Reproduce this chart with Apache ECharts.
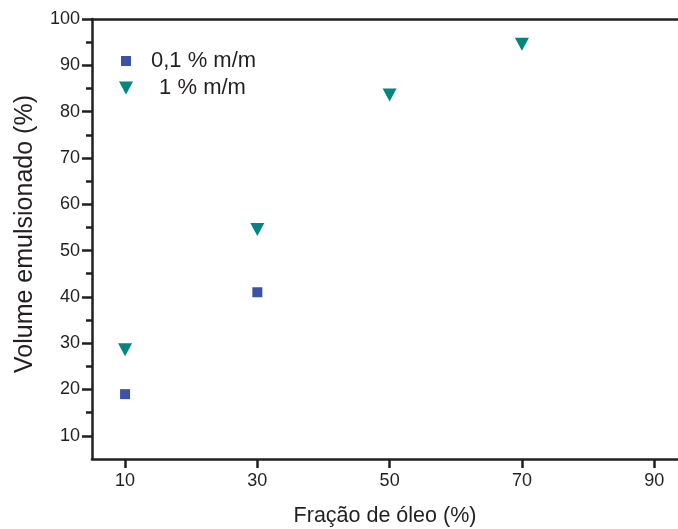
<!DOCTYPE html>
<html>
<head>
<meta charset="utf-8">
<script src="https://cdn.jsdelivr.net/npm/echarts@6/dist/echarts.min.js"></script>
<style>
html,body{margin:0;padding:0;background:#fff;}
#c{width:678px;height:529px;}
</style>
</head>
<body>
<div id="c"></div>
<script>
const seriesNames = ['0,1 % m/m', ' 1 % m/m'];
const xLow = [10, 30];
const yLow = [19, 41];
const xHigh = [10, 30, 50, 70];
const yHigh = [29, 55, 84, 95];
const xTicks = [10, 30, 50, 70, 90];
const yTicks = [10, 20, 30, 40, 50, 60, 70, 80, 90, 100];
const yMinorTicks = [15, 25, 35, 45, 55, 65, 75, 85, 95];
const xTitle = 'Fração de óleo (%)';
const yTitle = 'Volume emulsionado (%)';

const ink = '#231f20';
const font = 'Liberation Sans';
const downTri = 'path://M0,0 L14,0 L7,13 Z';
const chart = echarts.init(document.getElementById('c'));
chart.setOption({
  animation: false,
  backgroundColor: '#fff',
  grid: {left: 92, top: 19, right: 0, bottom: 70, containLabel: false, outerBoundsMode: 'none'},
  legend: [{
    orient: 'vertical', left: 116, top: 45, itemWidth: 10, itemHeight: 10,
    textStyle: {fontFamily: font, fontSize: 22, color: ink, padding: [0, 0, 0, 15]},
    data: [seriesNames[0]]
  }, {
    orient: 'vertical', left: 114, top: 72, itemWidth: 14, itemHeight: 13,
    textStyle: {fontFamily: font, fontSize: 22, color: ink, padding: [0, 0, 0, 15]},
    data: [{name: seriesNames[1], icon: downTri}]
  }],
  xAxis: [{
    type: 'value', min: 5, max: 93.6, position: 'bottom',
    name: xTitle, nameLocation: 'middle', nameGap: 46,
    nameTextStyle: {fontFamily: font, fontSize: 21.5, color: ink},
    axisLine: {show: true, lineStyle: {color: ink, width: 2.5}},
    axisTick: {show: true, inside: false, customValues: xTicks, length: 9, lineStyle: {color: ink, width: 2.5}},
    axisLabel: {customValues: xTicks, fontFamily: font, fontSize: 18, color: ink, margin: 13},
    splitLine: {show: false}
  }, {
    type: 'value', min: 5, max: 93.6, position: 'top',
    axisLine: {show: true, lineStyle: {color: ink, width: 2.5}},
    axisTick: {show: false}, axisLabel: {show: false}, splitLine: {show: false}
  }],
  yAxis: [{
    type: 'value', min: 5, max: 100, position: 'left',
    name: yTitle, nameLocation: 'middle', nameGap: 54,
    nameTextStyle: {fontFamily: font, fontSize: 25, color: ink, padding: [0, 0, 0, 10]},
    axisLine: {show: true, lineStyle: {color: ink, width: 2.5}},
    axisTick: {show: true, inside: false, customValues: yTicks, length: 10, lineStyle: {color: ink, width: 2.5}},
    axisLabel: {customValues: yTicks, fontFamily: font, fontSize: 18, color: ink, margin: 12},
    splitLine: {show: false}
  }, {
    type: 'value', min: 5, max: 100, position: 'left', offset: 0,
    axisLine: {show: false},
    axisTick: {show: true, inside: false, customValues: yMinorTicks, length: 6, lineStyle: {color: ink, width: 2.5}},
    axisLabel: {show: false}, splitLine: {show: false}
  }],
  series: [{
    name: seriesNames[0], type: 'scatter', symbol: 'rect', symbolSize: 10,
    itemStyle: {color: '#3a53a4', opacity: 1},
    data: xLow.map((x, i) => [x, yLow[i]])
  }, {
    name: seriesNames[1], type: 'scatter', symbol: 'triangle', symbolRotate: 180, symbolSize: [14, 13],
    symbolOffset: [0, 2],
    itemStyle: {color: '#008580', opacity: 1},
    data: xHigh.map((x, i) => [x, yHigh[i]])
  }]
});
</script>
</body>
</html>
